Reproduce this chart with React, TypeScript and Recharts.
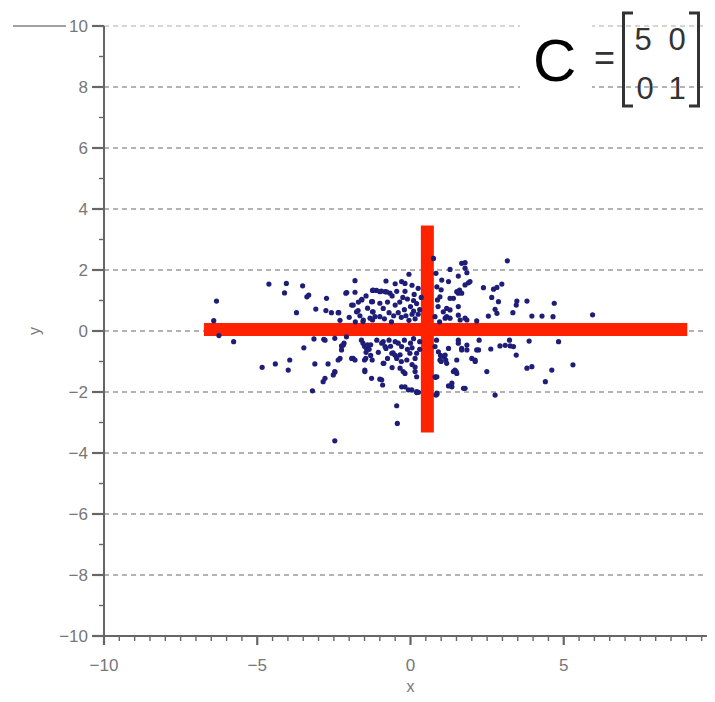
import React from 'react';
import {
  ScatterChart, Scatter, XAxis, YAxis, ReferenceLine,
} from 'recharts';

// samples, split by region
const LEFT_POINTS: [number, number][] = [
  [-6.33, 0.98], [-6.42, 0.34], [-6.25, -0.15], [-5.77, -0.35],
  [-4.62, 1.54], [-4.05, 1.56], [-4.11, 1.25], [-3.52, 1.48], [-3.38, 1.12], [-3.32, 1.18],
  [-3.72, 0.6], [-3.09, 0.72], [-2.74, 1.07], [-2.76, 0.67], [-2.58, 0.6], [-2.34, 0.6],
  [-3.48, -0.55], [-3.15, -0.26], [-2.79, -0.3], [-2.47, -0.24], [-2.25, -0.49], [-2.17, -0.4],
  [-2.09, -0.19], [-2.3, -0.9], [-4.84, -1.19], [-4.41, -1.08], [-3.94, -0.95], [-3.99, -1.28],
  [-3.12, -1.08], [-2.69, -1.08], [-2.47, -1.35], [-2.79, -1.55], [-2.85, -1.66], [-3.2, -1.96],
  [-2.47, -3.6], [-2.83, -0.27], [-2.19, -0.46], [-2.25, -0.62], [-2.36, -0.95], [-2.47, -1.33],
  [-2.52, -1.44], [-2.08, 1.26], [-2.36, 0.6], [-2.0, 0.45], [-2.3, 0.35], [-2.11, 1.24],
];

const CENTER_POINTS: [number, number][] = [
  [-1.81, 1.65], [-1.81, 1.27], [-1.92, 0.85], [-1.71, 0.67], [-1.59, 1.02],
  [-1.24, 1.33], [-1.11, 1.33], [-0.95, 1.31], [-0.78, 1.28], [-0.8, 1.64], [-0.29, 1.62],
  [-0.05, 1.86], [-1.24, 0.96], [-1.24, 0.63], [-1.24, 0.36], [-1.55, 0.31],
  [-1.87, -0.9], [-1.46, -0.9], [-1.49, -1.28], [-1.6, -0.3], [-1.3, -0.45], [-1.45, -0.55],
  [-1.55, -0.4], [-0.89, -0.35], [-0.8, -0.57], [-0.87, -1.06], [-0.57, -0.72], [-0.45, -0.85],
  [-0.34, -0.78], [-1.27, -1.55], [-0.94, -1.6], [-0.91, -1.77], [-0.29, -1.83], [-0.07, -1.93],
  [-0.45, -2.45], [-0.43, -3.03], [0.26, -2.01],
  [-1.59, 1.04], [-1.22, 1.34], [-1.0, 1.29], [-0.83, 1.29], [-0.67, 1.24], [-0.18, 1.56],
  [-1.87, 0.85], [-1.76, 0.63], [-1.54, 0.36], [-1.27, 0.96], [-1.22, 0.63], [-1.0, 0.91],
  [-0.89, 0.74], [-1.0, 0.47], [-1.32, 0.42], [-1.16, 0.47], [-1.8, 0.3], [-1.65, 0.5],
  [-1.4, 0.75], [-1.45, 1.15], [-1.7, 0.95],
  [-0.6, 1.15], [-0.5, 0.85], [-0.45, 1.3], [-0.4, 0.6], [-0.35, 0.95], [-0.3, 0.45],
  [-0.55, 0.5], [-0.62, 0.3], [-0.18, 1.3], [-0.1, 1.05], [0.0, 0.8], [0.05, 0.55],
  [0.12, 1.2], [0.15, 0.4], [0.2, 0.9], [0.25, 1.4], [-0.05, 0.35], [0.1, 0.65],
  [0.3, 0.7], [0.35, 1.1], [-0.75, 0.95], [-0.7, 0.6], [-0.2, 0.7], [0.05, 1.5],
  [-0.25, 1.1], [-0.15, 0.5], [0.25, 0.55], [-0.85, 0.4], [-0.5, 1.55], [0.1, 1.0],
  [-1.92, -0.9], [-1.81, -0.95], [-1.5, -0.5], [-1.4, -0.45], [-1.35, -0.6], [-1.45, -0.7],
  [-1.3, -0.8], [-1.25, -0.95], [-1.5, -0.95], [-1.0, -1.58], [-0.89, -1.06], [-1.49, -1.33],
  [-0.94, -0.4], [-0.83, -0.51], [-0.61, -0.73], [-0.51, -0.79], [-0.45, -0.9], [-0.34, -1.22],
  [-0.24, -1.33], [-0.12, -0.95], [-0.02, -0.73], [-0.29, -0.51], [-0.18, -1.83], [0.04, -1.93],
  [0.2, -1.99], [0.15, -0.9], [0.15, -1.33], [0.2, -0.73], [0.15, -1.18], [0.2, -1.5],
  [-0.18, -1.39], [-0.7, -0.3], [-0.5, -0.35], [-0.2, -0.3], [0.0, -0.4], [0.1, -0.25],
  [0.3, -0.35], [-0.1, -0.6], [0.05, -1.1], [-0.6, -1.2], [-0.75, -0.9], [0.3, -0.6],
  [-1.1, -0.3], [-1.05, -0.7], [-0.65, -0.5], [-0.3, -1.0], [0.05, -0.55], [-0.4, -0.4],
];

const RIGHT_POINTS: [number, number][] = [
  [0.86, -2.07], [0.82, -1.52], [0.75, 2.38], [0.83, 1.89], [0.88, 1.02],
  [3.16, 2.3], [1.78, 2.24], [1.29, 2.02], [1.84, 1.91], [1.56, 1.8], [1.02, 1.67],
  [1.89, 1.58], [1.78, 1.51], [1.6, 1.34], [1.56, 1.24], [2.38, 1.42], [2.71, 1.37],
  [2.82, 1.43], [2.98, 1.54], [2.65, 1.1], [2.87, 0.96], [3.47, 0.98], [3.45, 0.85],
  [3.8, 0.98], [4.69, 0.91], [2.76, 0.71], [2.82, 0.58], [3.34, 0.6], [3.96, 0.49],
  [4.29, 0.49], [4.65, 0.47], [5.94, 0.53], [2.54, 0.49], [2.16, 0.33], [1.56, 0.8],
  [1.29, 0.69], [1.07, 0.63], [1.18, 0.47], [1.4, 1.07], [1.62, 0.36], [1.84, 0.36],
  [1.94, 1.62], [0.96, 1.12], [1.18, 0.74], [1.29, 1.07], [1.13, 0.42], [1.29, 0.42],
  [1.67, 2.22], [1.78, 2.06], [1.51, 1.29], [1.67, 1.24], [1.56, 0.52], [1.78, 0.42],
  [1.24, 1.62], [0.86, 1.45], [0.8, 0.47], [0.9, 0.8], [1.0, 1.35], [0.95, 0.3],
  [1.56, -0.3], [2.24, -0.3], [1.84, -0.46], [1.67, -0.62], [2.22, -0.62], [2.0, -0.9],
  [2.11, -1.0], [2.62, -0.59], [2.92, -0.49], [3.09, -0.47], [3.25, -0.49], [3.36, -0.51],
  [3.23, -0.3], [3.45, -0.79], [3.87, -0.33], [4.83, -0.35], [3.8, -1.22], [3.96, -1.17],
  [4.61, -1.28], [5.3, -1.11], [4.4, -1.66], [2.49, -1.33], [2.76, -2.1], [1.78, -1.88],
  [1.35, -1.83], [1.24, -1.8], [0.83, -2.1], [0.2, -2.02], [1.51, -1.39], [1.4, -1.33],
  [1.1, -0.85], [1.15, -0.95], [1.0, -1.0], [0.98, -0.8], [1.45, -1.28], [0.8, -1.5],
  [0.8, -0.51], [0.91, -0.68], [0.96, -0.95], [1.13, -0.79], [1.24, -0.57], [1.18, -1.06],
  [1.51, -0.95], [1.49, -1.33], [1.35, -1.71], [1.73, -1.88], [0.86, -1.5], [0.86, -2.04],
  [1.56, -0.4], [1.67, -0.57], [1.84, -0.62], [2.16, -0.62], [2.11, -0.95], [0.85, -0.3],
];

// principal axes drawn in red
const H_AXIS: [number, number][] = [[-6.74, 0.05], [9.03, 0.05]];
const V_AXIS: [number, number][] = [[0.55, 3.46], [0.55, -3.33]];

const Y_TICKS = [-10, -9, -8, -7, -6, -5, -4, -3, -2, -1, 0, 1, 2, 3, 4, 5, 6, 7, 8, 9, 10];
const Y_LABELED = [-10, -8, -6, -4, -2, 0, 2, 4, 6, 8, 10];
const X_TICKS = [
  -10, -9.5, -9, -8.5, -8, -7.5, -7, -6.5, -6, -5.5, -5, -4.5, -4, -3.5, -3, -2.5, -2, -1.5, -1, -0.5,
  0, 0.5, 1, 1.5, 2, 2.5, 3, 3.5, 4, 4.5, 5, 5.5, 6, 6.5, 7, 7.5, 8, 8.5, 9, 9.5, 10,
];
const X_LABELED = [-10, -5, 0, 5, 10];
const GRID_Y = [10, 8, 6, 4, 2, 0, -2, -4, -6, -8];

const FONT = '"Liberation Sans", Arial, Helvetica, sans-serif';
const AXIS = '#666';
const LABEL = '#777';

const fmt = (v: number) => (v < 0 ? `\u2212${Math.abs(v)}` : String(v));

const toData = (pts: [number, number][]) => pts.map(([x, y]) => ({ x, y }));
const POINTS = [...toData(LEFT_POINTS), ...toData(CENTER_POINTS), ...toData(RIGHT_POINTS)];

const YTick = (props: any) => {
  const { x, y, payload } = props;
  const major = Y_LABELED.includes(payload.value);
  return (
    <g>
      <line x1={x - (major ? 12 : 5)} x2={x} y1={y} y2={y} stroke={AXIS} strokeWidth={major ? 2.2 : 1.4} />
      {major && (
        <text x={x - 16} y={y} dy={6} textAnchor="end" fill={LABEL} fontSize={17} fontFamily={FONT}>
          {fmt(payload.value)}
        </text>
      )}
    </g>
  );
};

const XTick = (props: any) => {
  const { x, y, payload } = props;
  const major = X_LABELED.includes(payload.value);
  return (
    <g>
      <line x1={x} x2={x} y1={y} y2={y + (major ? 9 : 5)} stroke={AXIS} strokeWidth={major ? 2.2 : 1.4} />
      {major && (
        <text x={x} y={y + 35} textAnchor="middle" fill={LABEL} fontSize={17} fontFamily={FONT}>
          {fmt(payload.value)}
        </text>
      )}
    </g>
  );
};

const Dot = (props: any) => <circle cx={props.cx} cy={props.cy} r={2.6} fill="#1e1e78" />;

export default function App() {
  return (
    <div style={{ position: 'relative', width: 715, height: 702, margin: -8, overflow: 'hidden', background: '#fff', fontFamily: FONT }}>
      <ScatterChart width={740} height={702} margin={{ top: 26, right: 23, left: 14, bottom: 4 }}>
        <XAxis
          type="number"
          dataKey="x"
          domain={[-10, 10]}
          ticks={X_TICKS}
          interval={0}
          tick={<XTick />}
          tickLine={false}
          tickSize={0}
          tickMargin={0}
          height={62}
          axisLine={{ stroke: AXIS, strokeWidth: 2 }}
          label={{ value: 'x', position: 'insideBottom', offset: 6, fill: LABEL, fontSize: 16, fontFamily: FONT }}
        />
        <YAxis
          type="number"
          dataKey="y"
          domain={[-10, 10]}
          ticks={Y_TICKS}
          interval={0}
          tick={<YTick />}
          tickLine={false}
          tickSize={0}
          tickMargin={0}
          width={90}
          axisLine={{ stroke: AXIS, strokeWidth: 2 }}
          label={{ value: 'y', angle: -90, position: 'insideLeft', offset: 20, dy: 4, fill: LABEL, fontSize: 16, fontFamily: FONT }}
        />
        {GRID_Y.map((v) => (
          <ReferenceLine
            key={v}
            y={v}
            stroke={v === 10 ? '#c8c8c8' : '#9a9a9a'}
            strokeWidth={1.6}
            strokeDasharray="5 4"
          />
        ))}
        <Scatter data={POINTS} shape={<Dot />} isAnimationActive={false} />
        <ReferenceLine
          segment={[{ x: H_AXIS[0][0], y: H_AXIS[0][1] }, { x: H_AXIS[1][0], y: H_AXIS[1][1] }]}
          stroke="#ff2200"
          strokeWidth={13}
        />
        <ReferenceLine
          segment={[{ x: V_AXIS[0][0], y: V_AXIS[0][1] }, { x: V_AXIS[1][0], y: V_AXIS[1][1] }]}
          stroke="#ff2200"
          strokeWidth={13}
        />
      </ScatterChart>
      <svg width={715} height={702} style={{ position: 'absolute', left: 0, top: 0, pointerEvents: 'none' }}>
        <line x1={13} x2={66} y1={26} y2={26} stroke="#444" strokeWidth={1} />
        <rect x={520} y={8} width={72} height={100} fill="#fff" />
        <text x={533} y={81} fontSize={60} fill="#000" fontFamily={FONT}>C</text>
        <text x={594} y={70} fontSize={36} fill="#333" fontFamily={FONT}>=</text>
        <path d="M633 13 L623.5 13 L623.5 106 L633 106" fill="none" stroke="#333" strokeWidth={3} />
        <path d="M689 13 L698.5 13 L698.5 106 L689 106" fill="none" stroke="#333" strokeWidth={3} />
        <text x={643} y={50} textAnchor="middle" fontSize={31} fill="#333" fontFamily={FONT}>5</text>
        <text x={677} y={50} textAnchor="middle" fontSize={31} fill="#333" fontFamily={FONT}>0</text>
        <text x={645} y={99} textAnchor="middle" fontSize={31} fill="#333" fontFamily={FONT}>0</text>
        <text x={677} y={99} textAnchor="middle" fontSize={31} fill="#333" fontFamily={FONT}>1</text>
      </svg>
    </div>
  );
}
